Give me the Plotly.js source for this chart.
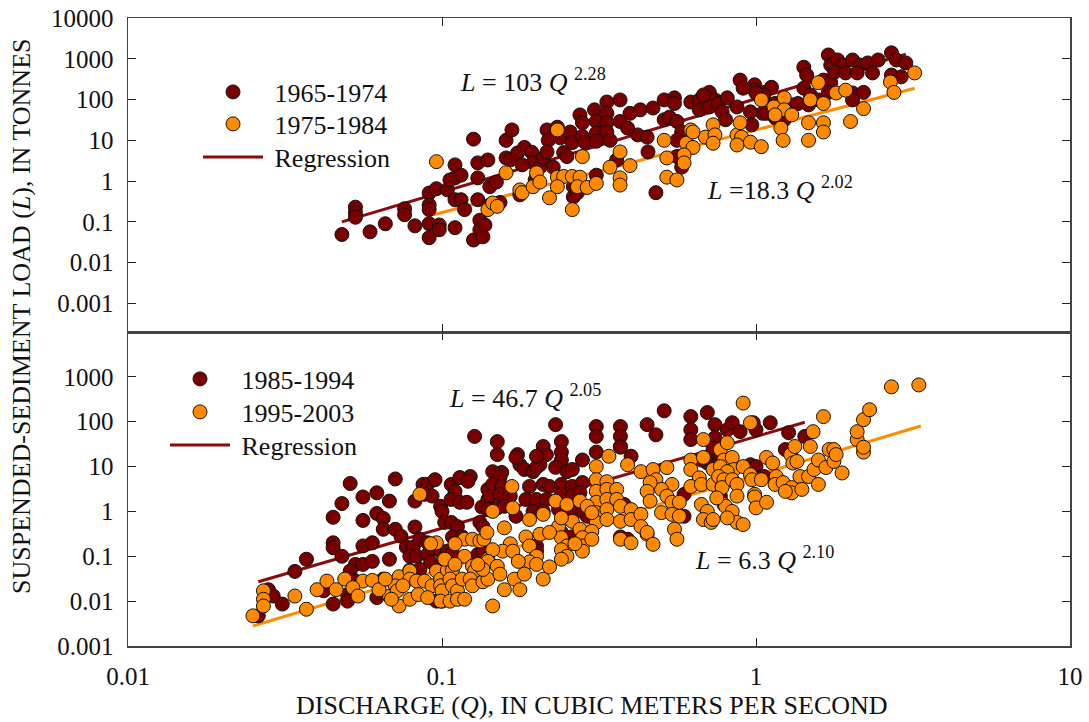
<!DOCTYPE html>
<html>
<head>
<meta charset="utf-8">
<script src="https://cdn.plot.ly/plotly-3.0.1.min.js"></script>
<style>html,body{margin:0;padding:0;background:#fff;}#chart{width:1089px;height:722px;}</style>
</head>
<body>
<div id="chart"></div>
<script>
// ---- 1965-1974 (top panel, dark red) ----
const q6574 = [0.048,0.053,0.053,0.053,0.059,0.066,0.076,0.076,0.082,0.091,0.091,0.091,0.091,0.091,0.096,0.098,0.098,0.104,0.11,0.11,0.11,0.11,0.115,0.115,0.126,0.126,0.13,0.13,0.13,0.132,0.132,0.135,0.14,0.142,0.142,0.149,0.153,0.16,0.167,0.16,0.165,0.174,0.183,0.193,0.195,0.205,0.21,0.216,0.218,0.216,0.226,0.233,0.238,0.244,0.25,0.256,0.26,0.262,0.262,0.275,0.28,0.28,0.285,0.306,0.31,0.31,0.31,0.335,0.335,0.335,0.335,0.343,0.369,0.369,0.397,0.428,0.42,0.45,0.453,0.31,0.27,0.48,0.51,0.55,0.55,0.51,0.53,0.56,0.58,0.56,0.56,0.58,0.62,0.66,0.66,0.71,0.74,0.71,0.76,0.78,0.81,0.87,0.89,0.99,0.99,1.05,1.12,1.15,1.05,0.96,0.97,1.06,1.08,1.15,1.23,1.3,1.36,1.42,1.45,1.42,1.49,1.47,1.58,1.64,1.73,1.7,1.7,1.73,1.82,1.89,1.78,1.93,2.03,2.15,2.1,2.27,2.35,2.03,2.2,2.03,2.45,2.7,2.8,3.0,2.7,2.9,0.118,0.137,0.177,0.198,0.106,0.18,0.36,0.39,0.47,0.68,0.8,0.91,1.0];
const l6574 = [0.049,0.23,0.17,0.13,0.057,0.09,0.21,0.15,0.08,0.51,0.26,0.2,0.09,0.041,0.65,0.084,0.064,0.61,2.5,1.2,0.35,0.072,1.4,0.35,10.7,0.036,2.8,1.2,0.35,0.11,0.064,0.043,3.3,0.73,0.26,0.95,0.3,10,18,3.7,3.3,4.9,6.7,5.1,2.8,2.2,3.7,18,10,5.2,2.2,21,11.5,5,4,16,8.8,0.73,0.41,42,27,12.5,9,56,29,15,9.5,87,46,27,16,10,98,29,46,56,13.6,12,5.2,1.4,0.52,0.52,98,110,80,32,37,29,16,10,4,2.2,87,98,56,150,98,66,80,50,110,66,300,230,170,150,200,80,46,50,24,130,46,36,32,74,80,620,400,190,130,74,98,300,260,150,1240,700,935,700,470,450,935,700,450,790,450,145,150,98,935,1400,935,790,400,360,0.2,0.084,0.46,1.07,1.07,2.5,3.3,20,62,130,32,190,145];

// ---- 1975-1984 (top panel, orange) ----
const q7584 = [0.096,0.14,0.145,0.15,0.16,0.177,0.18,0.195,0.2,0.205,0.22,0.233,0.233,0.244,0.26,0.275,0.233,0.27,0.29,0.31,0.26,0.28,0.343,0.369,0.397,0.369,0.369,0.51,0.52,0.52,0.56,0.62,0.69,0.6,0.63,0.59,0.59,0.73,0.74,0.73,0.63,0.87,0.89,0.9,0.87,0.96,1.04,1.04,1.14,1.23,1.23,1.15,1.3,1.2,1.22,1.49,1.58,1.64,1.47,1.47,1.64,1.64,1.8,1.93,2.2,2.0,2.68,2.75,3.2];
const l7584 = [3.0,0.2,0.29,0.24,1.6,0.61,0.52,0.73,1.6,0.95,0.39,18,1.25,1.3,1.3,1.25,0.73,0.73,0.7,0.88,0.2,4,2.2,5.2,2.4,1.2,0.8,10,3.7,1.25,1.07,18,12,8.5,6.7,4.4,2.8,24,13.6,8.5,16,13.6,27,12,7.7,9,7,98,66,110,56,42,42,20,10,98,260,80,27,10,27,16,145,170,60,29,270,150,450];

// ---- 1985-1994 (bottom panel, dark red) ----
const q8594 = [0.051,0.048,0.045,0.045,0.045,0.048,0.037,0.034,0.056,0.056,0.062,0.062,0.065,0.068,0.065,0.071,0.071,0.056,0.06,0.053,0.056,0.06,0.051,0.053,0.065,0.068,0.042,0.045,0.05,0.05,0.062,0.031,0.028,0.029,0.026,0.074,0.082,0.077,0.081,0.085,0.09,0.079,0.083,0.09,0.079,0.085,0.087,0.09,0.095,0.082,0.088,0.093,0.099,0.1,0.107,0.11,0.114,0.123,0.121,0.107,0.114,0.12,0.102,0.107,0.112,0.108,0.116,0.099,0.104,0.108,0.092,0.099,0.096,0.1,0.134,0.14,0.132,0.135,0.13,0.139,0.14,0.23,0.31,0.31,0.37,0.37,0.37,0.45,0.48,0.51,0.62,0.62,0.62,0.7,0.74,0.74,0.15,0.15,0.174,0.177,0.21,0.215,0.205,0.24,0.24,0.24,0.31,0.37,0.4,0.28,0.145,0.155,0.153,0.183,0.195,0.2,0.23,0.25,0.26,0.145,0.155,0.142,0.153,0.165,0.19,0.21,0.22,0.24,0.26,0.28,0.185,0.2,0.215,0.24,0.26,0.275,0.14,0.15,0.158,0.172,0.195,0.21,0.235,0.26,0.28,0.29,0.38,0.24,0.26,0.37,0.39,0.59,0.59,0.73,0.77,0.2,0.2,0.135,0.73,0.81,0.84,0.98,1.0,1.11,1.27,1.43,1.24,0.7,0.74,0.67,0.96,1.0,0.98,1.06,0.77,0.127,0.89,0.172,0.2];
const l8594 = [4.2,1.5,0.74,0.2,0.155,0.1,0.086,0.046,2.1,0.63,2.6,0.9,0.7,1.7,0.4,5.3,0.4,0.17,0.2,0.066,0.066,0.077,0.047,0.028,0.031,0.086,0.017,0.0086,0.014,0.01,0.012,0.0086,0.018,0.013,0.0047,0.28,0.45,0.16,0.16,0.24,0.2,0.1,0.1,0.11,0.049,0.051,4,4,5.1,1.7,2.4,2.2,1.3,1.0,4,2.8,5.7,6,4.7,1.85,1.6,1.6,0.57,0.57,0.46,0.27,0.27,0.13,0.13,0.12,0.075,0.058,0.01,0.01,1.25,1.85,0.57,0.46,0.11,0.13,3.1,86,78,47,78,47,28,86,51,175,130,66,40,160,86,44,36,18.5,18.5,11,28,18.5,11,36,21,14,21,27,17,14,7.7,7.4,5.8,8.6,7.7,9.6,9.6,7.7,8.6,4,3.6,2.2,2.4,2.2,3.6,4,3.6,4,3.6,4.4,1.85,1.85,1.85,2.4,2.2,2.6,1.1,1.2,1.3,0.78,1.0,1.0,1.1,1.1,1.0,0.78,1.43,0.34,0.27,0.27,0.24,2.4,0.78,16,14,0.17,0.13,0.13,26,66,95,95,66,95,57,47,24,12,10,14,11,10,6,6,2.2,47,60,16,17];

// ---- 1995-2003 (bottom panel, orange) ----
const q9503 = [0.025,0.027,0.027,0.027,0.034,0.037,0.056,0.06,0.068,0.073,0.085,0.071,0.072,0.073,0.079,0.079,0.075,0.083,0.088,0.093,0.096,0.096,0.099,0.099,0.1,0.104,0.108,0.106,0.108,0.112,0.099,0.106,0.112,0.118,0.118,0.125,0.127,0.118,0.125,0.132,0.136,0.116,0.123,0.125,0.135,0.139,0.14,0.14,0.167,0.34,0.39,0.43,0.31,0.31,0.31,0.31,0.31,0.31,0.335,0.335,0.335,0.335,0.335,0.36,0.36,0.37,0.37,0.4,0.4,0.43,0.43,0.45,0.47,0.48,0.52,0.54,0.5,0.52,0.54,0.5,0.54,0.46,0.45,0.46,0.57,0.57,0.55,0.56,0.62,0.62,0.66,0.62,0.67,0.73,0.73,0.79,0.78,0.68,0.77,0.81,0.79,0.67,0.7,0.68,0.72,0.79,0.23,0.25,0.275,0.29,0.3,0.26,0.275,0.3,0.28,0.28,0.28,0.235,0.24,0.25,0.24,0.25,0.205,0.22,0.24,0.21,0.185,0.19,0.2,0.19,0.2,0.165,0.156,0.168,0.175,0.145,0.14,0.15,0.135,0.158,0.145,0.168,0.3,0.37,0.4,0.45,0.47,0.91,0.96,0.68,0.84,0.85,0.77,0.81,0.91,0.76,0.79,0.78,0.84,0.87,0.96,0.97,1.04,1.08,1.13,1.16,1.15,1.22,1.3,1.3,1.24,0.99,0.99,1.0,1.08,0.8,0.84,0.87,0.87,0.91,0.75,0.73,0.81,1.29,1.33,1.31,1.35,1.38,1.4,1.49,1.47,1.52,1.64,1.53,1.58,1.58,1.67,1.71,1.77,1.77,1.88,1.8,2.1,2.1,2.2,2.3,2.2,2.2,2.7,3.3,0.04,0.043,0.046,0.049,0.052,0.054,0.063,0.066,0.069,0.079,0.084,0.09,0.102,0.11,0.153,0.158,0.17,0.183,0.21,0.22,0.145,0.092,0.11,0.13,0.177,0.24,0.265,0.19];
const l9503 = [0.0047,0.017,0.011,0.0078,0.013,0.0066,0.028,0.029,0.013,0.035,2.4,0.022,0.017,0.0078,0.047,0.031,0.022,0.028,0.028,0.022,0.2,0.047,0.031,0.022,0.017,0.049,0.049,0.031,0.022,0.017,0.01,0.01,0.011,0.011,0.1,0.06,0.047,0.24,0.24,0.22,0.24,0.031,0.031,0.022,0.027,0.34,0.086,0.031,3.6,17,11,7.7,10,5.1,2.8,1.6,0.94,0.57,4.6,3.1,1.85,1.1,0.66,3.1,1.85,1.3,0.6,1.1,0.66,0.86,0.46,0.31,8.6,5.1,9.5,4,3.1,2.2,1.6,0.94,0.86,4.4,2.8,1.7,0.78,1.6,0.4,0.24,14,8.6,5.6,3.6,4,4,8.6,8.6,3.6,40,24,34,14,1.43,1.0,0.66,0.57,1.43,1.7,1.43,1.7,1.3,0.94,0.6,0.4,0.36,0.26,0.17,0.13,0.46,0.26,0.17,0.14,0.1,0.31,0.34,0.72,0.86,0.27,0.17,0.1,0.075,0.066,0.19,0.13,0.13,0.077,0.14,0.077,0.06,0.051,0.43,1.0,1.2,0.24,0.24,0.2,0.34,0.185,260,95,16,16,8.6,10,7.7,10,6,5.1,3.4,5.1,4,6.6,5.1,5.1,16,12,6,4,4.4,3.4,2.6,2.8,2.4,2.1,1.2,1.6,1.3,1.0,2.2,0.57,0.51,2.0,0.66,0.72,18.5,28,12,13,6,3.1,28,6,60,130,8.6,14,4,9.5,24,24,13,7.2,18.5,40,60,111,185,21,27,600,660,0.018,0.028,0.018,0.031,0.02,0.013,0.018,0.031,0.011,0.011,0.014,0.012,0.086,0.066,0.04,0.018,0.031,0.04,0.031,0.058,0.0078,0.19,0.19,0.066,0.018,0.086,0.19,0.66];

// ---- Regression lines (end points) ----
const regQ6574 = [0.048, 3.0],  regL6574 = [0.10, 1300];
const regQ7584 = [0.094, 3.2],  regL7584 = [0.15, 190];
const regQ8594 = [0.026, 1.43], regL8594 = [0.027, 97];
const regQ9503 = [0.025, 3.35], regL9503 = [0.0028, 80];

// ---- Tick labels ----
const xTickVals = [0.01, 0.1, 1, 10];
const xTickText = ['0.01', '0.1', '1', '10'];
const yTopTickVals = [0.001, 0.01, 0.1, 1, 10, 100, 1000, 10000];
const yTopTickText = ['0.001', '0.01', '0.1', '1', '10', '100', '1000', '10000'];
const yBotTickVals = [0.001, 0.01, 0.1, 1, 10, 100, 1000];
const yBotTickText = ['0.001', '0.01', '0.1', '1', '10', '100', '1000'];

const DARK = '#7a0000', ORANGE = '#ff8a00';
const LDARK = '#8b0a0a', LORANGE = '#ff8c00';
const FONT = '"Liberation Serif", "Times New Roman", Times, serif';
const NB = '\u00a0';

function pts(q, l, color, name, xa, ya, leg, show) {
  return {x: q, y: l, type: 'scatter', mode: 'markers', name: name, xaxis: xa, yaxis: ya, legend: leg,
    showlegend: show, marker: {color: color, size: 14, line: {color: '#111', width: 1}}, cliponaxis: false};
}
function reg(q, l, color, xa, ya, leg, show, name) {
  return {x: q, y: l, type: 'scatter', mode: 'lines', name: name || 'Regression', xaxis: xa, yaxis: ya, legend: leg,
    showlegend: show, line: {color: color, width: 3}};
}

const traces = [
  // regression lines (drawn under the points)
  reg(regQ6574, regL6574, LDARK, 'x2', 'y', 'legend', false),
  reg(regQ7584, regL7584, LORANGE, 'x2', 'y', 'legend', false),
  reg(regQ8594, regL8594, LDARK, 'x', 'y2', 'legend', false),
  reg(regQ9503, regL9503, LORANGE, 'x', 'y2', 'legend', false),
  // points, each in its own single-item legend box
  pts(q6574, l6574, DARK, NB + '1965-1974', 'x2', 'y', 'legend', true),
  pts(q7584, l7584, ORANGE, NB + '1975-1984', 'x2', 'y', 'legend2', true),
  pts(q8594, l8594, DARK, NB + '1985-1994', 'x', 'y2', 'legend4', true),
  pts(q9503, l9503, ORANGE, NB + '1995-2003', 'x', 'y2', 'legend5', true),
  // legend-only entries for the regression line style
  reg([null], [null], LDARK, 'x2', 'y', 'legend3', true, NB + 'Regression'),
  reg([null], [null], LDARK, 'x', 'y2', 'legend6', true, NB + 'Regression')
];

const axCommon = {type: 'log', showgrid: false, zeroline: false, showline: true, linecolor: '#444', linewidth: 1.5,
  ticks: 'inside', ticklen: 8, tickwidth: 1, tickcolor: '#222', mirror: 'ticks',
  tickfont: {family: FONT, size: 25, color: '#111'}};

function leg(xpx, ypx) {
  return {x: (xpx - 128) / 942, y: (646 - ypx) / 628, xanchor: 'left', yanchor: 'middle',
    bgcolor: 'rgba(0,0,0,0)', borderwidth: 0, itemwidth: 60,
    font: {family: FONT, size: 26, color: '#111'}};
}

const layout = {
  width: 1089, height: 722,
  margin: {l: 128, r: 19, t: 18, b: 76},
  paper_bgcolor: '#fff', plot_bgcolor: '#fff',
  font: {family: FONT, color: '#111'},
  showlegend: true,
  xaxis: Object.assign({}, axCommon, {domain: [0, 1], anchor: 'y2', range: [-2, 1],
    tickvals: xTickVals, ticktext: xTickText, ticklabelstandoff: 7}),
  xaxis2: Object.assign({}, axCommon, {domain: [0, 1], anchor: 'y', range: [-2, 1], matches: 'x',
    tickvals: xTickVals, showticklabels: false}),
  yaxis: Object.assign({}, axCommon, {domain: [0.5, 1], anchor: 'x2', range: [-3.7, 4],
    tickvals: yTopTickVals, ticktext: yTopTickText, ticklabelstandoff: 8}),
  yaxis2: Object.assign({}, axCommon, {domain: [0, 0.5], anchor: 'x', range: [-3, 4],
    tickvals: yBotTickVals, ticktext: yBotTickText, ticklabelstandoff: 8}),
  legend: leg(198, 92),
  legend2: leg(198, 124),
  legend3: leg(198, 157),
  legend4: leg(165, 379),
  legend5: leg(165, 412),
  legend6: leg(165, 445),
  annotations: [
    {xref: 'paper', yref: 'paper', x: 0.350, y: 0.901, xanchor: 'left', yanchor: 'middle', showarrow: false,
      text: '<i>L</i> = 103 <i>Q</i> <sup>2.28</sup>', font: {family: FONT, size: 26, color: '#111'}},
    {xref: 'paper', yref: 'paper', x: 0.613, y: 0.729, xanchor: 'left', yanchor: 'middle', showarrow: false,
      text: '<i>L</i> =18.3 <i>Q</i> <sup>2.02</sup>', font: {family: FONT, size: 26, color: '#111'}},
    {xref: 'paper', yref: 'paper', x: 0.339, y: 0.398, xanchor: 'left', yanchor: 'middle', showarrow: false,
      text: '<i>L</i> = 46.7 <i>Q</i> <sup>2.05</sup>', font: {family: FONT, size: 26, color: '#111'}},
    {xref: 'paper', yref: 'paper', x: 0.600, y: 0.140, xanchor: 'left', yanchor: 'middle', showarrow: false,
      text: '<i>L</i> = 6.3 <i>Q</i> <sup>2.10</sup>', font: {family: FONT, size: 26, color: '#111'}},
    {xref: 'paper', yref: 'paper', x: -0.1125, y: 0.524, xanchor: 'center', yanchor: 'middle', showarrow: false,
      textangle: -90, text: 'SUSPENDED-SEDIMENT LOAD (<i>L</i>), IN TONNES', font: {family: FONT, size: 26, color: '#111'}},
    {xref: 'paper', yref: 'paper', x: 0.4926, y: -0.094, xanchor: 'center', yanchor: 'middle', showarrow: false,
      text: 'DISCHARGE (<i>Q</i>), IN CUBIC METERS PER SECOND', font: {family: FONT, size: 26, color: '#111'}}
  ]
};

Plotly.newPlot('chart', traces, layout, {displayModeBar: false, staticPlot: true});
</script>
</body>
</html>
